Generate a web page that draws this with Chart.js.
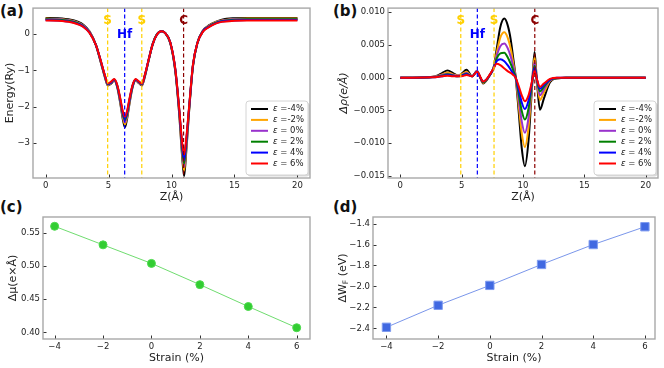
<!DOCTYPE html>
<html>
<head>
<meta charset="utf-8">
<script src="https://cdn.jsdelivr.net/npm/chart.js@4.4.1/dist/chart.umd.min.js"></script>
<style>
  body { margin: 0; background: #fff; width: 664px; height: 368px; position: relative; overflow: hidden; }
  canvas { position: absolute; }
  .tag { position: absolute; font: bold 15px 'DejaVu Sans'; color: #111; line-height: 1; }
</style>
</head>
<body>
<div class="tag" style="left:0px;top:4px">(a)</div>
<div class="tag" style="left:333px;top:4px">(b)</div>
<div class="tag" style="left:0px;top:200px">(c)</div>
<div class="tag" style="left:333px;top:200px">(d)</div>
<canvas id="chartA" width="330" height="205" style="left:0;top:0"></canvas>
<canvas id="chartB" width="334" height="205" style="left:330px;top:0"></canvas>
<canvas id="chartC" width="330" height="163" style="left:0;top:205px"></canvas>
<canvas id="chartD" width="334" height="163" style="left:330px;top:205px"></canvas>
<script>
// --- data ---
const strainLabels = ['ε =-4%', 'ε =-2%', 'ε = 0%', 'ε = 2%', 'ε = 4%', 'ε = 6%'];

const atomNames = ['S', 'Hf', 'S', 'C'];
const atomZ = [4.93, 6.28, 7.64, 10.96];

// (a) energy profile along Z
const zA = [0, 1, 2, 2.5, 3, 3.5, 4, 4.4, 4.7, 4.95, 5.2, 5.45, 5.7, 5.95, 6.15, 6.3, 6.45, 6.65, 6.9, 7.15,
    7.4, 7.65, 7.9, 8.2, 8.5, 8.85, 9.2, 9.5, 9.9, 10.3, 10.6, 10.85, 11.0, 11.15, 11.4, 11.7, 12.05, 12.5, 13, 13.5,
    14, 15, 16, 17, 18, 19, 20];
const energyM4 = [0.45, 0.44, 0.40, 0.35, 0.26, 0.07, -0.30, -0.80, -1.18, -1.42, -1.37, -1.28, -1.48, -1.95, -2.38, -2.57, -2.38, -1.95, -1.48, -1.28,
    -1.35, -1.42, -1.15, -0.70, -0.28, 0.00, 0.08, 0.03, -0.24, -1.02, -2.15, -3.40, -3.92, -3.35, -2.12, -0.90, -0.25, 0.10, 0.25, 0.34,
    0.40, 0.44, 0.45, 0.45, 0.45, 0.45, 0.45];
const energyM2 = [0.43, 0.42, 0.38, 0.33, 0.24, 0.06, -0.30, -0.79, -1.16, -1.40, -1.36, -1.27, -1.46, -1.91, -2.32, -2.49, -2.32, -1.91, -1.46, -1.27,
    -1.34, -1.40, -1.14, -0.69, -0.28, 0.00, 0.08, 0.03, -0.23, -1.00, -2.11, -3.29, -3.77, -3.24, -2.09, -0.89, -0.25, 0.09, 0.24, 0.33,
    0.38, 0.42, 0.43, 0.43, 0.43, 0.43, 0.43];
const energyP0 = [0.42, 0.41, 0.37, 0.32, 0.23, 0.05, -0.30, -0.78, -1.15, -1.39, -1.35, -1.26, -1.45, -1.88, -2.27, -2.43, -2.27, -1.88, -1.45, -1.26,
    -1.33, -1.39, -1.13, -0.69, -0.28, 0.00, 0.08, 0.03, -0.23, -0.99, -2.08, -3.21, -3.66, -3.16, -2.06, -0.88, -0.25, 0.09, 0.23, 0.32,
    0.37, 0.41, 0.42, 0.42, 0.42, 0.42, 0.42];
const energyP2 = [0.41, 0.40, 0.36, 0.31, 0.22, 0.04, -0.30, -0.77, -1.14, -1.38, -1.34, -1.25, -1.44, -1.85, -2.23, -2.37, -2.23, -1.85, -1.44, -1.25,
    -1.32, -1.38, -1.12, -0.69, -0.28, 0.00, 0.08, 0.03, -0.23, -0.98, -2.05, -3.14, -3.57, -3.09, -2.04, -0.87, -0.25, 0.08, 0.22, 0.31,
    0.36, 0.40, 0.41, 0.41, 0.41, 0.41, 0.41];
const energyP4 = [0.39, 0.38, 0.34, 0.29, 0.21, 0.04, -0.30, -0.76, -1.13, -1.37, -1.33, -1.25, -1.43, -1.83, -2.19, -2.32, -2.19, -1.83, -1.43, -1.25,
    -1.31, -1.37, -1.11, -0.68, -0.28, -0.01, 0.08, 0.03, -0.22, -0.96, -2.03, -3.07, -3.47, -3.02, -2.02, -0.86, -0.25, 0.08, 0.21, 0.30,
    0.35, 0.38, 0.39, 0.39, 0.39, 0.39, 0.39];
const energyP6 = [0.38, 0.37, 0.33, 0.28, 0.20, 0.03, -0.30, -0.75, -1.12, -1.36, -1.31, -1.24, -1.41, -1.80, -2.15, -2.28, -2.15, -1.80, -1.41, -1.24,
    -1.30, -1.36, -1.10, -0.68, -0.28, -0.01, 0.08, 0.03, -0.22, -0.95, -2.00, -3.00, -3.32, -2.95, -2.00, -0.85, -0.25, 0.07, 0.20, 0.29,
    0.34, 0.37, 0.38, 0.38, 0.38, 0.38, 0.38];

// (b) charge density difference along Z
const zB = [0, 1, 2, 2.5, 3, 3.4, 3.85, 4.3, 4.7, 5.0, 5.4, 5.85, 6.25, 6.5, 6.75, 7.0, 7.3, 7.6, 7.85, 8.15,
    8.48, 8.75, 9.0, 9.2, 9.4, 9.65, 9.9, 10.15, 10.45, 10.73, 10.94, 11.13, 11.38, 11.7, 12.2, 12.75, 13.5, 15, 17, 20];
const rhoM4 = [0, 0, 0.00005, 0.0001, 0.0003, 0.0007, 0.0011, 0.0007, 0.0003, 0.0006, 0.0012, 0.0002, 0.0010, 0.0001, -0.0009, -0.0005, 0.0004, 0.0015, 0.0043, 0.0077,
    0.0090, 0.0080, 0.0058, 0.0030, 0.0001, -0.0052, -0.0108, -0.0135, -0.0096, -0.0016, 0.0039, -0.0005, -0.0049, -0.0032, -0.0007, -0.0001, 0, 0, 0, 0];
const rhoM2 = [0, 0, 0.00004, 0.00008, 0.00025, 0.0005, 0.0008, 0.0005, 0.0003, 0.0005, 0.0009, 0.0002, 0.0010, 0.0001, -0.0008, -0.0004, 0.0004, 0.0015, 0.0037, 0.0061,
    0.0069, 0.0061, 0.0044, 0.0023, 0.0001, -0.0042, -0.0085, -0.0106, -0.0076, -0.0013, 0.0031, -0.0004, -0.0034, -0.0023, -0.0005, -0.0001, 0, 0, 0, 0];
const rhoP0 = [0, 0, 0.00003, 0.00007, 0.0002, 0.0004, 0.0006, 0.0004, 0.0003, 0.0004, 0.0007, 0.0002, 0.0010, 0.0001, -0.0007, -0.0004, 0.0004, 0.0015, 0.0033, 0.0048,
    0.0052, 0.0045, 0.0032, 0.0017, 0.0001, -0.0033, -0.0067, -0.0084, -0.0061, -0.0010, 0.0024, -0.0003, -0.0027, -0.0018, -0.0004, -0.0001, 0, 0, 0, 0];
const rhoP2 = [0, 0, 0.00003, 0.00006, 0.00015, 0.0003, 0.0005, 0.0003, 0.0002, 0.0003, 0.0006, 0.0002, 0.0009, 0.0001, -0.0007, -0.0004, 0.0004, 0.0014, 0.0029, 0.0037,
    0.0038, 0.0031, 0.0021, 0.0011, 0.0001, -0.0025, -0.0051, -0.0064, -0.0047, -0.0009, 0.0018, -0.0003, -0.0021, -0.0014, -0.0003, -0.0001, 0, 0, 0, 0];
const rhoP4 = [0, 0, 0.00002, 0.00005, 0.0001, 0.0002, 0.0004, 0.0003, 0.0002, 0.0003, 0.0005, 0.0002, 0.0009, 0.0001, -0.0006, -0.0003, 0.0004, 0.0014, 0.0025, 0.0028,
    0.0025, 0.0019, 0.0012, 0.0006, 0, -0.0018, -0.0038, -0.0048, -0.0035, -0.0007, 0.0015, -0.0002, -0.0017, -0.0011, -0.0003, 0, 0, 0, 0, 0];
const rhoP6 = [0, 0, 0.00002, 0.00005, 0.0001, 0.0002, 0.0003, 0.0002, 0.0002, 0.0002, 0.0004, 0.0002, 0.0009, 0.0002, -0.0006, -0.0003, 0.0005, 0.0014, 0.0021, 0.0019,
    0.0014, 0.0010, 0.0007, 0.0004, 0, -0.0013, -0.0027, -0.0036, -0.0027, -0.0006, 0.0011, -0.0002, -0.0014, -0.0009, -0.0002, 0, 0, 0, 0, 0];

// (c), (d) vs strain
const strainPct = [-4, -2, 0, 2, 4, 6];
const dipoleChange = [0.560, 0.532, 0.504, 0.472, 0.439, 0.407];
const workFnChange = [-2.39, -2.18, -1.99, -1.79, -1.60, -1.43];

// --- styles ---
const strainColors = ['#000000', '#FFA500', '#9932CC', '#008000', '#0000FF', '#FF0000'];
const atomColors = ['#FFD000', '#0000FF', '#FFD000', '#8B0000'];
const atomTextDy = [13, 27, 13, 13];
const FONT = "'DejaVu Sans'";
const TEXT = '#222';

function fmt(v, d) {
    if (Math.abs(v) < 1e-9) v = 0;
    return (v < 0 ? '\u2212' : '') + Math.abs(v).toFixed(d);
}

function axis(min, max, step, dec, size, title) {
    const a = {
        type: 'linear', min: min, max: max,
        grid: { display: false, drawTicks: false },
        border: { display: false },
        ticks: {
            stepSize: step, includeBounds: false, color: TEXT, padding: 3,
            font: { family: FONT, size: 8.5 },
            callback: v => fmt(v, dec)
        },
        afterFit: s => { if (s.isHorizontal()) s.height = size; else s.width = size; }
    };
    if (title) {
        a.title = { display: true, text: title.text, color: TEXT, padding: title.pad,
            font: { family: FONT, size: 11, style: title.italic ? 'italic' : 'normal' } };
    }
    return a;
}

const frameTicks = {
    id: 'frameTicks',
    afterDraw(chart) {
        const ctx = chart.ctx, a = chart.chartArea;
        const xs = chart.scales.x, ys = chart.scales.y;
        ctx.save();
        ctx.strokeStyle = '#333';
        ctx.lineWidth = 1;
        ctx.beginPath();
        xs.ticks.forEach(t => {
            const p = Math.round(xs.getPixelForValue(t.value)) + 0.5;
            ctx.moveTo(p, a.bottom); ctx.lineTo(p, a.bottom - 3.5);
        });
        ys.ticks.forEach(t => {
            const p = Math.round(ys.getPixelForValue(t.value)) + 0.5;
            ctx.moveTo(a.left, p); ctx.lineTo(a.left + 3.5, p);
        });
        ctx.stroke();
        ctx.strokeStyle = '#a8a8a8';
        ctx.lineWidth = 1.4;
        ctx.strokeRect(a.left, a.top, a.right - a.left, a.bottom - a.top);
        ctx.restore();
    }
};

const atomLines = {
    id: 'atomLines',
    afterDatasetsDraw(chart) {
        const ctx = chart.ctx, a = chart.chartArea, xs = chart.scales.x;
        ctx.save();
        atomZ.forEach((z, i) => {
            const px = xs.getPixelForValue(z);
            ctx.strokeStyle = atomColors[i];
            ctx.lineWidth = 1.2;
            ctx.setLineDash([4, 2.5]);
            ctx.beginPath();
            ctx.moveTo(px, a.top); ctx.lineTo(px, a.bottom);
            ctx.stroke();
            ctx.setLineDash([]);
            ctx.fillStyle = atomColors[i];
            ctx.font = 'bold 12px ' + FONT;
            ctx.textAlign = 'center';
            ctx.textBaseline = 'middle';
            ctx.fillText(atomNames[i], px, a.top + atomTextDy[i]);
        });
        ctx.restore();
    }
};

const boxLegend = {
    id: 'boxLegend',
    afterDraw(chart) {
        const ctx = chart.ctx, a = chart.chartArea;
        const w = 62, h = 74;
        const x0 = a.right - w - 2, y0 = a.bottom - h - 3;
        ctx.save();
        ctx.fillStyle = 'rgba(0,0,0,0.15)';
        ctx.beginPath(); ctx.roundRect(x0 + 1.5, y0 + 1.5, w, h, 3); ctx.fill();
        ctx.fillStyle = '#fff';
        ctx.strokeStyle = '#d4d4d4';
        ctx.lineWidth = 1;
        ctx.beginPath(); ctx.roundRect(x0, y0, w, h, 3); ctx.fill(); ctx.stroke();
        ctx.textBaseline = 'middle';
        chart.data.datasets.forEach((ds, i) => {
            const y = y0 + 8 + i * 10.9;
            ctx.strokeStyle = ds.borderColor;
            ctx.lineWidth = 2;
            ctx.beginPath(); ctx.moveTo(x0 + 5, y); ctx.lineTo(x0 + 22, y); ctx.stroke();
            ctx.fillStyle = TEXT;
            ctx.font = 'italic 8.5px ' + FONT;
            ctx.fillText(ds.label[0], x0 + 27, y);
            const wEps = ctx.measureText(ds.label[0]).width;
            ctx.font = '8.5px ' + FONT;
            ctx.fillText(ds.label.slice(1), x0 + 27 + wEps, y);
        });
        ctx.restore();
    }
};

const subscriptTitle = {
    id: 'subscriptTitle',
    afterDraw(chart) {
        const ctx = chart.ctx, a = chart.chartArea;
        const parts = [['ΔW', 11, 0], ['F', 7.5, 3], [' (eV)', 11, 0]];
        ctx.save();
        ctx.translate(13, (a.top + a.bottom) / 2);
        ctx.rotate(-Math.PI / 2);
        ctx.fillStyle = TEXT;
        ctx.textBaseline = 'middle';
        let total = 0;
        parts.forEach(p => { ctx.font = p[1] + 'px ' + FONT; total += ctx.measureText(p[0]).width; });
        let x = -total / 2;
        parts.forEach(p => {
            ctx.font = p[1] + 'px ' + FONT;
            ctx.fillText(p[0], x, p[2]);
            x += ctx.measureText(p[0]).width;
        });
        ctx.restore();
    }
};

function profileSets(zs, series) {
    return series.map((vals, i) => ({
        label: strainLabels[i],
        data: zs.map((z, k) => ({ x: z, y: vals[k] })),
        borderColor: strainColors[i],
        borderWidth: 2,
        pointRadius: 0,
        cubicInterpolationMode: 'monotone',
        order: series.length - 1 - i
    }));
}

const common = { responsive: false, animation: false, events: [] };

new Chart(document.getElementById('chartA'), {
    type: 'line',
    data: { datasets: profileSets(zA, [energyM4, energyM2, energyP0, energyP2, energyP4, energyP6]) },
    options: {
        ...common,
        layout: { padding: { left: 0, top: 5, right: 20, bottom: 0 } },
        plugins: { legend: { display: false }, tooltip: { enabled: false } },
        scales: {
            x: axis(-1, 21, 5, 0, 27, { text: 'Z(Å)', pad: { top: 1, bottom: 1 } }),
            y: axis(-3.97, 0.72, 1, 0, 33, { text: 'Energy(Ry)', pad: { top: 4, bottom: 0 } })
        }
    },
    plugins: [atomLines, frameTicks, boxLegend]
});

new Chart(document.getElementById('chartB'), {
    type: 'line',
    data: { datasets: profileSets(zB, [rhoM4, rhoM2, rhoP0, rhoP2, rhoP4, rhoP6]) },
    options: {
        ...common,
        layout: { padding: { left: 0, top: 5, right: 6, bottom: 0 } },
        plugins: { legend: { display: false }, tooltip: { enabled: false } },
        scales: {
            x: axis(-1, 21, 5, 0, 27, { text: 'Z(Å)', pad: { top: 1, bottom: 1 } }),
            y: axis(-0.0153, 0.0106, 0.005, 3, 58, { text: 'Δρ(e/Å)', pad: { top: 8, bottom: 0 }, italic: true })
        }
    },
    plugins: [atomLines, frameTicks, boxLegend]
});

new Chart(document.getElementById('chartC'), {
    type: 'line',
    data: {
        datasets: [{
            data: strainPct.map((s, i) => ({ x: s, y: dipoleChange[i] })),
            borderColor: 'rgba(50,205,50,0.7)',
            borderWidth: 1,
            pointStyle: 'circle',
            pointRadius: 4,
            pointBackgroundColor: '#32CD32',
            pointBorderColor: '#4cd94c',
            pointBorderWidth: 1
        }]
    },
    options: {
        ...common,
        layout: { padding: { left: 0, top: 12, right: 20, bottom: 0 } },
        plugins: { legend: { display: false }, tooltip: { enabled: false } },
        scales: {
            x: axis(-4.48, 6.55, 2, 0, 29, { text: 'Strain (%)', pad: { top: 3, bottom: 3 } }),
            y: axis(0.39, 0.574, 0.05, 2, 43, { text: 'Δμ(e×Å)', pad: { top: 7, bottom: 0 } })
        }
    },
    plugins: [frameTicks]
});

new Chart(document.getElementById('chartD'), {
    type: 'line',
    data: {
        datasets: [{
            data: strainPct.map((s, i) => ({ x: s, y: workFnChange[i] })),
            borderColor: 'rgba(65,105,225,0.7)',
            borderWidth: 1,
            pointStyle: 'rect',
            pointRadius: 5.9,
            pointBackgroundColor: '#4169E1',
            pointBorderColor: '#7f9cf0',
            pointBorderWidth: 1
        }]
    },
    options: {
        ...common,
        layout: { padding: { left: 0, top: 12, right: 9, bottom: 0 } },
        plugins: { legend: { display: false }, tooltip: { enabled: false } },
        scales: {
            x: axis(-4.52, 6.39, 2, 0, 29, { text: 'Strain (%)', pad: { top: 3, bottom: 3 } }),
            y: axis(-2.502, -1.337, 0.2, 1, 43, null)
        }
    },
    plugins: [frameTicks, subscriptTitle]
});
</script>
</body>
</html>
